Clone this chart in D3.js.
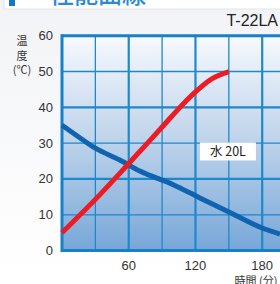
<!DOCTYPE html>
<html><head><meta charset="utf-8">
<script src="https://cdn.jsdelivr.net/npm/d3@7"></script>
<style>html,body{margin:0;padding:0;background:#f3f4f6;overflow:hidden}svg{display:block}</style>
</head><body>
<svg id="c" width="280" height="284"></svg>
<script>
const xTicks = [60, 120, 180];
const yTicks = [0, 10, 20, 30, 40, 50, 60];
const redSeries = [[0,5],[30,14.3],[60,24.3],[90,34.5],[110,41.3],[120,44.3],[135,48],[150,50]];
const blueSeries = [[0,35],[16,31.5],[30,28.6],[52,25.3],[70,22.2],[100,18.4],[124,14.7],[150,10.8],[180,6.3],[196,4.6]];
const seriesLabel = "水 20L";
const modelName = "T-22LA";
const yTitle = ["温","度","(℃)"];
const xTitle = "時間 (分)";
const header = "性能曲線";

const svg = d3.select("#c");
const font = "'Liberation Sans', Arial, sans-serif";
const cjk = "'Noto Sans CJK JP', sans-serif";

const defs = svg.append("defs");
const bg = defs.append("linearGradient").attr("id","bg").attr("x1",0).attr("y1",0).attr("x2",0).attr("y2",1);
bg.append("stop").attr("offset","0%").attr("stop-color","#f2f3f6");
bg.append("stop").attr("offset","100%").attr("stop-color","#ffffff");
svg.append("rect").attr("width",280).attr("height",284).attr("fill","url(#bg)");

// header box
svg.append("rect").attr("x",4).attr("y",-10).attr("width",290).attr("height",19)
  .attr("fill","#ffffff").attr("stroke","#e3e5e8");
svg.append("rect").attr("x",9).attr("y",-2).attr("width",6).attr("height",8).attr("fill","#1677c4");
svg.append("text").attr("x",50).attr("y",3).attr("font-family",cjk).attr("font-size",24)
  .attr("font-weight","500").attr("fill","#2a8ad2").text(header);

const x = d3.scaleLinear().domain([0,196]).range([62,280]);
const y = d3.scaleLinear().domain([0,60]).range([250.6,35.7]);

const pg = defs.append("linearGradient").attr("id","pg").attr("x1",0).attr("y1",0).attr("x2",0).attr("y2",1);
pg.append("stop").attr("offset","0%").attr("stop-color","#f7f9fd");
pg.append("stop").attr("offset","45%").attr("stop-color","#c3d6ec");
pg.append("stop").attr("offset","100%").attr("stop-color","#77a7d8");
svg.append("rect").attr("x",x(0)).attr("y",y(60)).attr("width",x(196)-x(0)).attr("height",y(0)-y(60)).attr("fill","url(#pg)");

const gridColor = "#1f88cc";
const vLines = d3.range(30, 196, 30);
svg.append("g").selectAll("line").data(vLines).join("line")
  .attr("x1",d=>x(d)).attr("x2",d=>x(d)).attr("y1",y(60)).attr("y2",y(0))
  .attr("stroke",gridColor).attr("stroke-width",d=>d%60===0?2.2:1.3);
svg.append("g").selectAll("line").data([10,20,30,40,50]).join("line")
  .attr("x1",x(0)).attr("x2",280).attr("y1",d=>y(d)).attr("y2",d=>y(d))
  .attr("stroke",gridColor).attr("stroke-width",d=>d%20===0?2.2:1.3);
svg.append("line").attr("x1",x(0)).attr("x2",x(0)).attr("y1",y(60)-1.5).attr("y2",y(0)+1.5).attr("stroke","#1680c8").attr("stroke-width",3);
svg.append("line").attr("x1",x(0)).attr("x2",280).attr("y1",y(60)).attr("y2",y(60)).attr("stroke","#1680c8").attr("stroke-width",3);
svg.append("line").attr("x1",x(0)).attr("x2",280).attr("y1",y(0)).attr("y2",y(0)).attr("stroke","#1680c8").attr("stroke-width",3);

const line = d3.line().x(d=>x(d[0])).y(d=>y(d[1])).curve(d3.curveMonotoneX);
svg.append("path").datum(blueSeries).attr("d",line).attr("fill","none").attr("stroke","#0f63b0").attr("stroke-width",5);
svg.append("path").datum(redSeries).attr("d",line).attr("fill","none").attr("stroke","#ec1c24").attr("stroke-width",5).attr("stroke-linecap","butt");

const lx = x(124), ly = y(30.2);
svg.append("rect").attr("x",lx).attr("y",ly).attr("width",56).attr("height",18).attr("fill","#ffffff");
svg.append("text").attr("x",lx+28).attr("y",ly+14).attr("text-anchor","middle")
  .attr("font-family",cjk).attr("font-size",12.5).attr("fill","#222").text(seriesLabel);

svg.append("g").selectAll("text").data(yTicks).join("text")
  .attr("x",53).attr("y",d=>y(d)+4.5).attr("text-anchor","end")
  .attr("font-family",font).attr("font-size",13).attr("fill","#333").text(d=>d);
svg.append("g").selectAll("text").data(xTicks).join("text")
  .attr("x",d=>x(d)).attr("y",270).attr("text-anchor","middle")
  .attr("font-family",font).attr("font-size",13).attr("fill","#333").text(d=>d);

svg.append("g").selectAll("text").data(yTitle).join("text")
  .attr("x",22).attr("y",(d,i)=>45+i*14.5).attr("text-anchor","middle")
  .attr("font-family",cjk).attr("font-size",11).attr("fill","#333").text(d=>d);
svg.append("text").attr("x",256).attr("y",285).attr("text-anchor","middle")
  .attr("font-family",cjk).attr("font-size",11).attr("fill","#333").text(xTitle);
svg.append("text").attr("x",278).attr("y",26).attr("text-anchor","end")
  .attr("font-family",font).attr("font-size",16).attr("fill","#222").text(modelName);
</script>
</body></html>
